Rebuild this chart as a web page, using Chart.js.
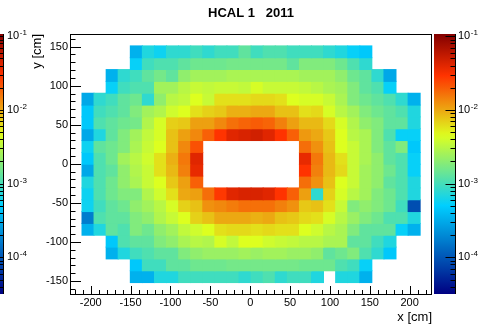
<!DOCTYPE html>
<html>
<head>
<meta charset="utf-8">
<script src="https://cdn.jsdelivr.net/npm/chart.js@4.4.0/dist/chart.umd.min.js"></script>
<style>
  html, body { margin: 0; padding: 0; background: #fff; }
  #wrap { width: 478px; height: 324px; }
</style>
</head>
<body>
<div id="wrap"><canvas id="hcalMap" width="478" height="324"></canvas></div>
<script>
const chartTitle = 'HCAL 1   2011';
const xTitle = 'x [cm]';
const yTitle = 'y [cm]';

// bin centres (cm)
const xCenters = [-203.4, -188.3, -173.1, -158.0, -142.8, -127.7, -112.5, -97.4, -82.2, -67.1,
  -51.9, -36.8, -21.6, -6.5, 8.7, 23.8, 39.0, 54.1, 69.3, 84.4,
  99.6, 114.7, 129.9, 145.0, 160.2, 175.3, 190.5, 205.6];
const yCenters = [143.4, 128.3, 113.1, 98.0, 82.8, 67.7, 52.5, 37.4, 22.2, 7.1,
  -8.1, -23.2, -38.4, -53.5, -68.7, -83.8, -99.0, -114.1, -129.3, -144.4];
const binSize = 15.15;

const xTicks = [-200, -150, -100, -50, 0, 50, 100, 150, 200];
const yTicks = [-150, -100, -50, 0, 50, 100, 150];
const zDecades = [1e-4, 1e-3, 1e-2, 1e-1];
const zMin = 3.18e-5;
const zMax = 0.1074;

// cell contents in units of 1e-4, top row first, null = empty
const zUnit = 1e-4;
const _ = null;
const zRows = [
  [_, _, _, _, 3.4, 6.9, 5.8, 8.0, 8.0, 9.5, 8.0, 9.5, 9.5, 13, 9.5, 11, 11, 9.5, 9.5, 9.5, 8.0, 6.9, 5.4, 4.6, _, _, _, _],
  [_, _, _, _, 5.4, 9.5, 11, 11, 13, 15, 15, 15, 16, 16, 16, 16, 16, 13, 18, 18, 18, 15, 11, 8.0, _, _, _, _],
  [_, _, 3.4, 8.0, 9.5, 13, 16, 13, 21, 25, 25, 25, 27, 27, 27, 27, 27, 27, 25, 25, 25, 21, 15, 13, 8.0, 3.0, _, _],
  [_, _, 5.4, 9.5, 11, 11, 25, 25, 31, 36, 34, 36, 36, 34, 42, 36, 36, 36, 34, 31, 27, 25, 18, 13, 11, 5.4, _, _],
  [3.0, 8.0, 9.5, 13, 15, 8.0, 21, 31, 34, 45, 36, 60, 60, 60, 64, 64, 60, 45, 42, 42, 36, 27, 18, 15, 13, 11, 8.0, 3.4],
  [4.6, 9.5, 11, 13, 18, 25, 29, 39, 45, 60, 69, 75, 93, 93, 100, 100, 80, 80, 60, 64, 42, 31, 25, 18, 15, 13, 11, 6.9],
  [4.6, 11, 13, 15, 16, 29, 42, 70, 75, 108, 108, 134, 167, 187, 201, 187, 144, 108, 86, 86, 64, 42, 29, 21, 18, 13, 13, 6.9],
  [3.0, 6.9, 13, 18, 25, 34, 42, 80, 108, 134, 193, 292, 404, 438, 475, 404, 292, 193, 115, 100, 75, 45, 31, 27, 18, 11, 5.4, 5.4],
  [5.8, 13, 15, 18, 27, 36, 45, 80, 134, 223, _, _, _, _, _, _, _, _, 170, 124, 80, 45, 36, 27, 18, 13, 18, 4.6],
  [4.6, 11, 15, 25, 31, 39, 60, 93, 155, 404, _, _, _, _, _, _, _, _, 372, 155, 86, 60, 36, 27, 21, 13, 11, 5.4],
  [3.0, 11, 13, 21, 29, 36, 60, 86, 144, 372, _, _, _, _, _, _, _, _, 292, 144, 86, 64, 36, 25, 21, 15, 11, 5.4],
  [6.9, 11, 15, 21, 27, 36, 45, 75, 108, 193, _, _, _, _, _, _, _, _, 170, 124, 80, 45, 36, 25, 21, 13, 11, 6.9],
  [5.8, 11, 15, 18, 18, 29, 39, 60, 100, 108, 170, 280, 404, 438, 438, 404, 292, 193, 108, 8.0, 69, 42, 31, 25, 18, 15, 11, 6.9],
  [5.8, 9.5, 13, 15, 21, 25, 31, 42, 69, 80, 124, 134, 150, 167, 167, 167, 144, 124, 75, 80, 60, 36, 18, 21, 18, 15, 9.5, 0.9],
  [1.7, 11, 13, 13, 18, 21, 29, 36, 45, 69, 80, 100, 100, 100, 93, 100, 80, 75, 64, 60, 42, 31, 23, 18, 15, 11, 11, 6.9],
  [3.4, 6.9, 13, 11, 18, 15, 21, 25, 34, 39, 45, 60, 64, 64, 60, 64, 60, 60, 45, 39, 31, 27, 18, 13, 13, 13, 5.4, 3.4],
  [_, _, 4.6, 11, 13, 13, 18, 21, 27, 31, 29, 42, 34, 45, 45, 39, 36, 34, 31, 31, 27, 27, 13, 13, 9.5, 6.9, _, _],
  [_, _, 3.4, 6.9, 9.5, 11, 13, 13, 18, 21, 23, 23, 23, 25, 23, 25, 25, 23, 23, 21, 13, 15, 18, 11, 8.0, 4.6, _, _],
  [_, _, _, _, 4.6, 9.5, 9.5, 13, 13, 15, 15, 15, 16, 16, 16, 16, 16, 16, 15, 15, 15, 11, 9.5, 5.4, _, _, _, _],
  [_, _, _, _, 3.4, 3.4, 6.9, 6.9, 9.5, 9.5, 9.5, 9.5, 9.5, 8.0, 9.5, 11, 8.0, 9.5, 9.5, 6.9, _, 6.9, 6.9, 3.4, _, _, _, _]
];

// ROOT style palette (blue - cyan - yellow - red - dark red)
const paletteStops = [0, 0.34, 0.61, 0.84, 1];
const paletteRed = [0, 0, 0.87, 1, 0.51];
const paletteGreen = [0, 0.81, 1, 0.2, 0];
const paletteBlue = [0.51, 1, 0.12, 0, 0];

function paletteAt(f) {
    f = Math.min(1, Math.max(0, f));
    let i = 0;
    while (i < paletteStops.length - 2 && f > paletteStops[i + 1]) i++;
    const t = (f - paletteStops[i]) / (paletteStops[i + 1] - paletteStops[i]);
    const c = k => Math.round(255 * (k[i] + t * (k[i + 1] - k[i])));
    return `rgb(${c(paletteRed)},${c(paletteGreen)},${c(paletteBlue)})`;
}

function paletteColor(v) {
    const lo = Math.log10(zMin), hi = Math.log10(zMax);
    return paletteAt((Math.log10(v) - lo) / (hi - lo));
}

const datasets = zRows.map((row, r) => {
    const points = [];
    row.forEach((z, c) => {
        if (z === null) return;
        points.push({
            x: xCenters[c],
            y: [yCenters[r] - binSize / 2, yCenters[r] + binSize / 2],
            v: z * zUnit
        });
    });
    return {
        data: points,
        backgroundColor: points.map(p => paletteColor(p.v)),
        borderWidth: 0,
        inflateAmount: 0.5,
        grouped: false,
        barPercentage: 1,
        categoryPercentage: 1
    };
});

const fontFamily = '"Liberation Sans", Arial, Helvetica, sans-serif';

// draws the frame, inner ticks, the colour scale and the title
const rootDecor = {
    id: 'rootDecor',
    afterDraw(chart) {
        const { ctx, chartArea: a, scales } = chart;
        ctx.save();
        ctx.strokeStyle = '#000';
        ctx.fillStyle = '#000';
        ctx.lineWidth = 1;

        // frame
        ctx.strokeRect(a.left + 0.5, a.top + 0.5, a.right - a.left - 1, a.bottom - a.top);

        // x ticks (inside, along bottom)
        ctx.beginPath();
        for (let v = -220; v <= 220; v += 10) {
            const px = Math.round(scales.x.getPixelForValue(v)) + 0.5;
            const len = v % 50 === 0 ? 8 : 4;
            ctx.moveTo(px, a.bottom);
            ctx.lineTo(px, a.bottom - len);
        }
        // y ticks (inside, along left)
        for (let v = -160; v <= 160; v += 10) {
            const py = Math.round(scales.y.getPixelForValue(v)) + 0.5;
            const len = v % 50 === 0 ? 11 : 5.5;
            ctx.moveTo(a.left, py);
            ctx.lineTo(a.left + len, py);
        }
        ctx.stroke();

        // colour scales: full one on the right, cut one on the left edge
        const z = scales.z;
        const yTop = z.getPixelForValue(zMax);
        const yBot = z.getPixelForValue(zMin);
        const grad = ctx.createLinearGradient(0, yBot, 0, yTop);
        for (let i = 0; i <= 50; i++) grad.addColorStop(i / 50, paletteAt(i / 50));

        const bars = [{ x0: a.right + 2, x1: a.right + 23, labelX: a.right + 26 }, { x0: 0, x1: 3, labelX: 7 }];
        bars.forEach(b => {
            ctx.fillStyle = grad;
            ctx.fillRect(b.x0, yTop, b.x1 - b.x0, yBot - yTop);
            ctx.beginPath();
            ctx.moveTo(b.x1 + 0.5, yTop);
            ctx.lineTo(b.x1 + 0.5, yBot);
            for (let d = -5; d <= 0; d++) {
                for (let k = 1; k <= 9; k++) {
                    const v = k * Math.pow(10, d);
                    if (v < zMin || v > zMax) continue;
                    const py = Math.round(z.getPixelForValue(v)) + 0.5;
                    const len = k === 1 ? 10 : 5;
                    ctx.moveTo(b.x1 + 0.5, py);
                    ctx.lineTo(b.x1 + 0.5 - len, py);
                }
            }
            ctx.strokeStyle = '#000';
            ctx.stroke();

            ctx.fillStyle = '#000';
            zDecades.forEach(v => {
                const py = z.getPixelForValue(v);
                ctx.font = '11px ' + fontFamily;
                ctx.textAlign = 'left';
                ctx.textBaseline = 'middle';
                ctx.fillText('10', b.labelX, py);
                const w = ctx.measureText('10').width;
                ctx.font = '8px ' + fontFamily;
                ctx.textBaseline = 'alphabetic';
                ctx.fillText(String(Math.round(Math.log10(v))), b.labelX + w + 0.5, py - 1);
            });
        });

        // title
        ctx.font = 'bold 13px ' + fontFamily;
        ctx.textAlign = 'center';
        ctx.textBaseline = 'middle';
        ctx.fillText(chartTitle, (a.left + a.right) / 2, 13);
        ctx.restore();
    }
};

Chart.defaults.font.family = fontFamily;
Chart.defaults.color = '#000';

new Chart(document.getElementById('hcalMap'), {
    type: 'bar',
    data: { datasets: datasets },
    options: {
        responsive: false,
        animation: false,
        devicePixelRatio: 1,
        events: [],
        layout: { padding: { top: 34, left: 0, right: 0, bottom: 0 } },
        plugins: {
            legend: { display: false },
            title: { display: false },
            tooltip: { enabled: false }
        },
        scales: {
            x: {
                type: 'linear',
                position: 'bottom',
                min: -226,
                max: 228,
                bounds: 'data',
                offset: false,
                grid: { display: false, drawTicks: false },
                border: { display: false },
                afterBuildTicks: s => { s.ticks = xTicks.map(v => ({ value: v })); },
                ticks: { font: { size: 11 }, padding: 2, maxRotation: 0, autoSkip: false },
                title: {
                    display: true, text: xTitle, align: 'end',
                    font: { size: 13, lineHeight: 1 }, padding: { top: 0, bottom: 0 }
                },
                afterFit: s => { s.height = 30; }
            },
            y: {
                type: 'linear',
                position: 'left',
                min: -166.6,
                max: 166.2,
                bounds: 'data',
                grid: { display: false, drawTicks: false },
                border: { display: false },
                afterBuildTicks: s => { s.ticks = yTicks.map(v => ({ value: v })); },
                ticks: { font: { size: 11 }, padding: 2, autoSkip: false },
                title: {
                    display: true, text: yTitle, align: 'end',
                    font: { size: 13, lineHeight: 1 }, padding: { top: 31, bottom: 0 }
                },
                afterFit: s => { s.width = 70; }
            },
            z: {
                type: 'logarithmic',
                position: 'right',
                min: zMin,
                max: zMax,
                bounds: 'data',
                grid: { display: false },
                border: { display: false },
                ticks: { display: false },
                afterFit: s => { s.width = 46; }
            }
        }
    },
    plugins: [rootDecor]
});
</script>
</body>
</html>
